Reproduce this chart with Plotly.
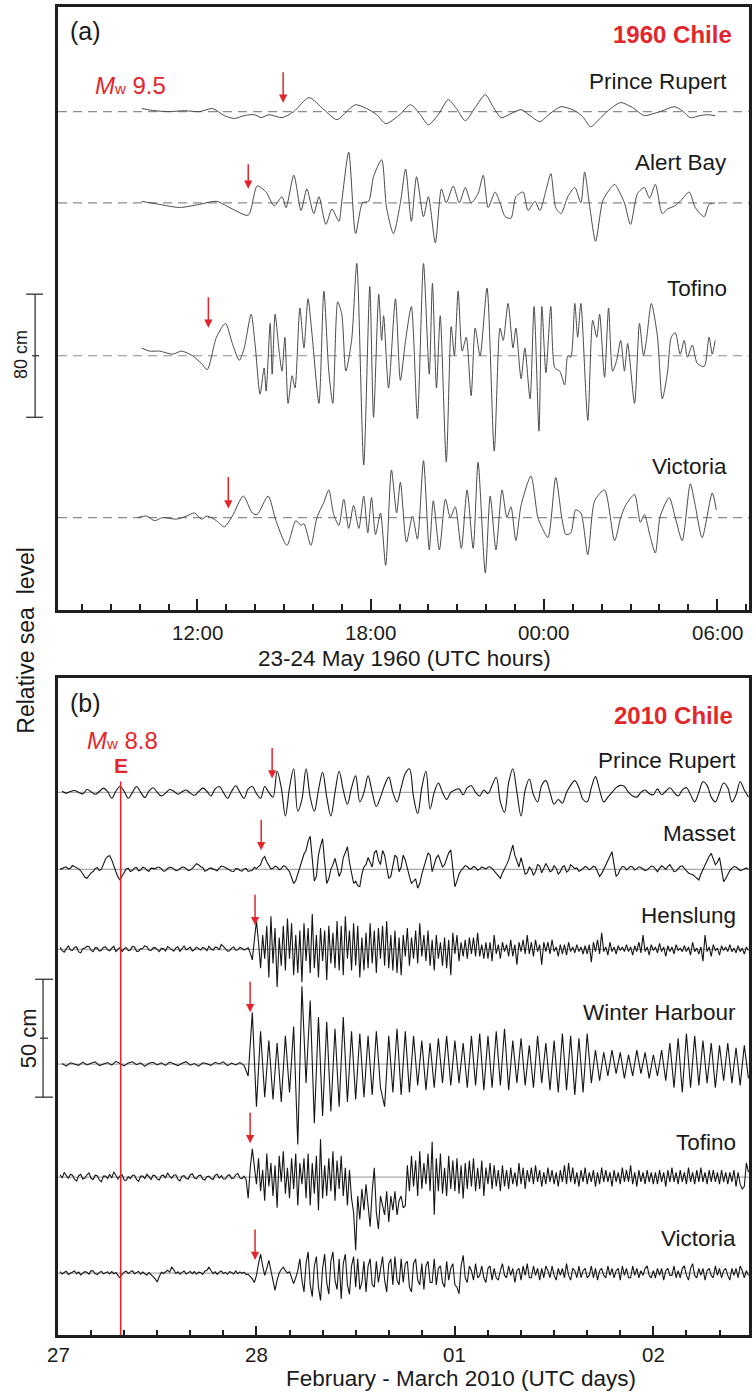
import numpy as np
import plotly.graph_objects as go

# ---------------- (a) 1960 Chile : hours from 23 May 1960 00:00 UTC, relative sea level (cm)
pr60_t = [10.07,10.52,11.03,11.55,12.07,12.52,12.93,13.28,13.62,13.97,14.21,14.48,14.93,15.34,15.86,16.38,16.83,17.24,17.48,17.86,
          18.21,18.52,18.97,19.38,19.72,20.0,20.34,20.69,20.97,21.28,21.62,21.97,22.24,22.52,22.86,23.21,23.52,23.86,24.21,24.59,
          25.07,25.34,25.62,25.97,26.31,26.66,27.07,27.48,27.79,28.03,28.52,28.79,29.07,29.41,29.66,29.93]
pr60_v = [2,0.6,0,0.6,0,2,-2.6,-4.5,-2.6,-2,-3.9,-2,-3.9,0,9.1,1.3,-5.2,1.3,4.5,2,
          -2,-7.8,-2.6,4.5,-2,-8.5,-2,7.8,2,-5.9,2.6,11,3.2,-3.9,-1.3,1.3,-2.6,-6.5,-1.3,3.2,
          0.6,-3.2,-9.8,-3.9,2,5.9,2.6,-2.6,-1.3,0,3.2,0.6,-3.9,-2.6,-2,-2.6]

ab60_t = [10.07,10.69,11.38,12.07,12.66,13.21,13.76,14.07,14.38,14.66,14.93,15.07,15.34,15.59,15.79,16.03,16.21,16.45,16.66,16.90,
          17.0,17.24,17.48,17.72,17.93,18.10,18.38,18.55,18.79,19.03,19.21,19.41,19.59,19.83,20.0,20.24,20.45,20.62,20.86,21.07,
          21.28,21.48,21.72,21.90,22.07,22.31,22.48,22.66,22.86,23.03,23.28,23.45,23.69,23.86,24.07,24.24,24.41,24.59,24.83,25.07,
          25.28,25.41,25.59,25.79,26.03,26.21,26.45,26.62,26.79,27.0,27.24,27.48,27.66,27.86,28.10,28.28,28.52,28.72,29.03,29.24,
          29.55,29.72,29.93]
ab60_v = [1,-1,-3,-1,1,-4,-8,11,7,-2,4,-3,18,-5,9,-7,4,-14,-4,-12,
          1,33,-20,0,1,17,28,-3,-20,0,22,-12,17,-9,4,-26,9,0,11,0,
          10,0,6,18,-3,7,0,-9,-10,4,7,-5,1,-5,8,19,-3,-7,4,10,
          0,20,-3,-25,1,7,12,7,0,-14,6,10,3,12,-7,-4,-2,1,7,-3,
          -9,-1,0]

to60_t = [10.07,10.34,10.69,11.14,11.45,11.83,12.14,12.34,12.66,12.97,
          13.21,13.45,13.62,13.86,14.0,14.17,14.31,14.38,14.52,14.59,
          14.69,14.83,14.93,15.03,15.14,15.28,15.38,15.55,15.69,15.83,
          15.97,16.21,16.38,16.55,16.69,16.86,17.0,17.14,17.34,17.52,
          17.76,17.97,18.10,18.28,18.38,18.45,18.62,18.86,19.03,19.21,
          19.41,19.62,19.83,20.03,20.14,20.28,20.41,20.62,20.79,20.90,
          21.03,21.17,21.31,21.48,21.62,21.79,22.03,22.28,22.48,22.59,
          22.76,22.93,23.03,23.21,23.34,23.52,23.66,23.83,23.93,24.07,
          24.24,24.38,24.55,24.72,24.83,24.93,25.07,25.17,25.28,25.52,
          25.69,25.83,25.93,26.10,26.24,26.38,26.52,26.66,26.79,26.90,
          27.14,27.31,27.45,27.55,27.72,27.93,28.10,28.28,28.41,28.55,
          28.72,28.86,28.97,29.14,29.31,29.55,29.72,29.83,29.93]
to60_v = [5,3,3,1,3,0,-5,-9,12,21,
          8,-3,5,27,7,-25,-8,-23,21,-12,
          27,3,-10,12,-31,-13,-21,31,5,37,
          14,-31,42,-10,-31,35,27,-10,10,60,
          -71,45,-40,40,10,26,-21,37,-16,10,
          32,-41,60,-12,47,-21,26,-69,19,0,
          42,3,12,-26,18,0,44,-62,18,10,
          34,5,18,-15,5,-28,32,-49,32,-11,
          32,-8,-10,-19,0,-1,34,12,34,-42,
          23,12,27,-14,31,-10,-3,10,-10,8,
          -31,21,0,10,34,13,-28,-11,12,15,
          1,10,-1,7,-5,-7,12,1,10]

vi60_t = [9.93,10.24,10.52,10.79,11.28,11.62,11.90,12.14,12.34,12.66,
          12.93,13.21,13.59,13.90,14.07,14.45,14.72,15.10,15.41,15.59,
          15.69,15.93,16.14,16.38,16.55,16.72,16.90,17.07,17.24,17.41,
          17.59,17.76,17.90,18.03,18.17,18.34,18.52,18.72,18.90,19.03,
          19.24,19.45,19.62,19.83,20.03,20.17,20.38,20.59,20.76,20.93,
          21.14,21.34,21.55,21.72,21.97,22.14,22.34,22.55,22.72,22.86,
          23.03,23.21,23.55,23.79,23.90,24.14,24.41,24.62,24.76,24.93,
          25.10,25.28,25.52,25.76,26.10,26.45,26.66,26.83,27.14,27.34,
          27.48,27.69,27.86,28.03,28.34,28.55,28.79,29.07,29.24,29.48,
          29.83,29.97]
vi60_v = [0,1,-2,0,-1,1,3,-1,1,-2,
          -6,1,14,3,2,14,-2,-18,-2,-5,
          -4,-18,0,10,18,2,-5,12,-7,8,
          -7,14,-10,13,-11,3,-31,31,3,23,
          -16,1,-14,37,-21,11,-21,12,0,7,
          -20,18,-20,36,-36,14,-21,18,0,7,
          -15,8,27,0,-5,-13,26,0,-11,-10,
          5,3,-24,11,18,-15,0,8,15,-3,
          2,-13,-23,1,13,0,-15,22,8,-13,
          16,5]

arrival60 = [14.97, 13.76, 12.38, 13.07]   # red arrows (h)

# ---------------- (b) 2010 Chile : days from 27 Feb 2010 00:00 UTC (cm)
t10 = np.arange(1, 168) / 48.0    # 30-min samples
t10f = np.arange(1, 335) / 96.0   # 15-min samples
pr10 = [0.5,-0.3,0.4,0.8,0,-0.6,1.2,0.3,-0.8,0.4,1.8,0.4,
        -2.5,0.5,2.5,0.5,-2.5,0,2.5,0,-2.2,0.5,2.0,0,
        -1.5,-0.3,1.2,0.5,-0.8,0.3,1.0,-0.3,-1.2,0.3,1.8,0.5,
        -1.5,1.5,2.5,0,-2.5,0.5,2.8,0,-2.5,1.5,2.5,-0.5,
        -2.5,2.5,0,-2,9,2,-10,2,10,-8,-3,10,
        -2,-8,1,8.5,-2,-10,0,9,1,-5,2,7,
        -4,0,7,0,-6,-2,3,6.5,0,-4,2,8,
        10,-2,-9,2,9,-7,0,4,0,-3,0,1,
        1.5,-1,2,2.8,0,-1.5,1,-0.5,3,6.4,-4,-8.5,
        4,10,0,-10,1,5.7,-1,-4,3,5,0,-5,
        -3,-4.5,0,3,5,2,-3,-4,2,6.7,1,-4,
        -2,0,2,3,2.5,0,-1.5,-2,0,1,-0.5,-1,
        1.5,-1,0.5,2,0,-1.5,1,2,-1,-4,0,4.5,
        3,-2,-4,0,4,2,-4,-1,4.5,1,-2]
ma10 = [0.1,0.3,0.9,1,0.2,0.5,1.6,1.2,0.5,0.2,-0.6,-2,-3.4,-3.8,-2.6,-1.5,-0.9,0.3,0.8,-0.5,0.1,2,4.4,5.5,
        5.8,4,1.2,-1,-3.2,-4.5,-2.8,-1,0.2,0.5,-0.9,-0.5,0.6,0.8,-0.6,-0.3,0.9,0.6,-0.4,-0.8,0.5,0.4,0.2,0.9,
        0.9,0.3,-0.8,-0.6,0.4,0.9,0.8,0.2,-0.6,-0.4,0.5,1.0,0.9,0.4,-0.5,-0.3,0.4,1.2,2.4,2,1.1,0.8,-0.7,-0.5,
        0.4,0.6,0.2,-0.3,-0.6,0.5,1.4,1.2,0.6,0.1,-0.3,-0.8,-0.9,0.3,0.2,-0.5,-0.8,0.2,0.4,-0.9,-0.8,-0.4,0.9,0.3,
        1.2,2,4.5,5.4,3.2,1.5,0.2,0.5,1.4,1,-0.2,0.3,1.5,1.2,0.2,-1,-3.5,-6,-4.8,-2,0.5,3,6.5,8,
        12,14,4,-5,-3,6,10,13,3,-6,-4,0,2,4.7,1,-3,-1,5,7,9.6,3,-2,-6,-5,
        -7,-7.3,-2,1,2,5,3,1,7,8,4,2,8,6,1,-3.8,-3,2,6,5,-1,1,6,4,
        0,-3,-6,-5,-4,-8,-6,-2,1,4,7,6,-1,2,5,6,3,1,2,5,7,8.2,0,-7.4,
        -5,-2,-0.5,0.5,1.6,1.2,0.2,0.3,1.2,0.8,-0.4,0.2,1,0.6,0.2,0.9,1.1,0.4,-0.6,-2,-3,-3.8,-1.5,0,
        2,4,7,10.3,6,3,1,5,1,-2,-1.5,1,0,-2.5,-1,2,1.5,-1.5,0.5,2.5,1,-1,-0.5,1.5,
        0.5,-2,-1,1,1.5,-1.2,-0.5,2,1.2,0.3,0.6,-0.8,-0.4,0.5,1.2,0.8,-0.2,0.4,1.3,0.9,-1.5,-3,-1.8,0,
        2,4,6,7.5,2,-3,-2,0,1.2,1,-0.2,0.5,1.3,1,-0.3,0.3,1.1,0.8,0.2,-0.5,-0.2,0.6,1.4,1.2,
        0.3,-1,0.4,1.5,0.9,0,1.2,2,0.6,-1,-0.7,0.5,1.2,1.5,0.4,-1,-1.6,-2,-2.2,-3,-3.8,-4.5,-2,0,
        2,4,5.5,6.8,4,2,3,5,0,-5.2,-4,-2,-0.5,0.5,1.2,1,0.2,-0.5,-0.3,0.3,0.6,0]
he10 = [0.8,-0.6,-1.2,0.4,1.5,-0.3,-0.5,0.9,1,-1.1,-1.5,0.2,0.5,1.3,1.2,-0.4,-1,0.7,0.6,-0.8,-0.4,0.9,1,-0.2,
        -0.6,0.5,1.3,-0.9,0.2,0.8,-1,0.3,0.8,-0.6,-0.3,1.2,1,-0.9,-0.8,0.2,0.4,1.4,1.1,-0.3,-0.5,0.6,0.7,-0.4,
        -1,0.4,0.3,-0.7,1.2,0.6,-0.2,-0.8,0.6,1.1,-0.9,0.1,1.4,-0.3,0.2,0.9,-0.7,-0.2,0.9,0.4,-0.3,0.8,0.5,-0.6,
        1.3,0.2,-0.4,0.9,0.8,-0.3,2,1.2,0.4,-0.8,-0.6,0.5,1,-0.4,-0.2,0.8,0.5,-0.3,0.1,0.6,-1.5,-4.5,4,12,
        3,-8,6,-4,10,-12,14,-6,9,-16,5,-7,10,-9,13,-4,11,-11,6,-10,8,-14,11,-5,
        9,-10,15,-8,6,-12,9,-5,8,-13,10,-6,7,-8,12,-9,10,-11,14,-4,8,-9,11,-7,
        10,-12,5,-9,7,-8,11,-6,8,-10,9,-4,10,-7,12,-8,6,-9,8,-10,5,-11,6,-3,
        9,-7,5,-4,8,-6,11,-3,6,-5,8,-7,4,-9,6,-4,3,-7,5,-8,4,-11,7,-2,
        6,-5,3,-3,4,-4,5,-2,5,-3,7,-3,2,-4,3,-4,3,-5,6,-2,2,-4,3,-1,
        2,-3,4,-3,2,-6.5,3,-1,4,-2,6,-2,3,-3,4,-1,2,-6.5,3,-1,3,-2,4,-1,
        1,-3,2,-2,2,-2.5,3,-1,1,-1.5,2,-1,1,-2,1.5,-2,2,-5.5,3,-1,4,-2,7,-1,
        1,-2.5,3,-1,1,-2,1.5,-0.5,1,-1,2,-1,1,-2.5,1.5,-1,3,-1.5,6,-1,1,-2.5,2,-0.5,
        1,-1.5,2.5,-1,1,-3,1.5,-1,1,-2,2,-0.5,0.5,-1,1.5,-1,1,-2.5,3,-1,0.5,-2,1,-5,
        6,-1,1,-3,2,-0.5,0.5,-2.5,1.5,-0.5,1,-1,2,-1,0.5,-1.5,1.5,-1,0.5,-2,1,-0.5]
wh10 = [0.3,-0.8,0.6,0.2,-0.5,0.9,-0.3,0.4,1,-0.6,0.2,0.7,
        -0.4,1.2,0.3,-0.7,0.5,1,-0.2,0.6,-0.9,0.4,0.8,-0.3,
        0.6,-0.5,0.9,0.2,-0.6,0.4,1.1,-0.4,0.3,-0.8,0.6,0.2,
        -0.5,0.8,0.1,1,-0.6,0.5,-0.3,0.7,-0.5,-5,22,-18,
        14,-14,10,-15,9,-16,12,-12,16,-34,33,-8,
        27,-25,20,-22,18,-20,15,-18,20,-16,14,-15,
        13,-14,12,-13,14,-10,-18,12,-12,15,-13,14,
        -12,12,-9,10,-11,9,-10,11,-8,12,-9,10,
        -8,9,-10,12,-9,13,-11,12,-10,14,-9,15,
        -11,10,-8,11,-9,8,-10,12,-8,9,-11,10,
        -12,13,-11,12,-13,11,-12,13,-8,6,-7,5,
        -5,6,-4,5,-6,4,-5,6,-4,5,-6,4,
        -5,6,-7,9,-10,11,-12,13,-10,12,-9,10,
        -8,9,-10,8,-7,9,-8,7,-9,8,-6]
to10 = [1,-0.4,2,0.6,-0.6,1.2,0.8,-1,-1.6,0.6,1.2,-0.8,-0.4,1,1.8,-0.6,-1,0.8,0.6,-1.2,-2,0.4,0.4,-0.6,
        1.2,-0.4,2.2,0.8,-0.8,0.6,1,-1.2,-1.4,0.2,-0.6,0.8,0.8,-1,-1.8,0.4,0.4,-0.6,1.2,0.2,-1,0.8,0.6,-0.8,
        -1.2,0.6,0.8,-0.4,1.8,0.4,-0.4,0.8,1,-1,-1.6,0.4,0.6,-0.6,-0.8,1,1.4,-0.4,-0.6,0.6,0.8,-0.8,-1.2,0.2,
        0.4,-0.6,-1,0.8,1.2,-0.4,0.6,-0.8,-0.8,0.6,1,-0.6,-0.4,1,1.6,-0.4,-0.6,0.4,-1,-9,4,12,3,-3,
        8,-6,3,-10,10,-4,6,-8,5,-13,9,-2,11,-7,4,-9,8,-5,10,-12,6,-3,8,-9,
        10,-12,6,-7,9,-14,16,-9,5,-8,8,-6,11,-10,7,-5,9,-8,4,-12,3,-9,-15,-31,
        -8,-18,-5,-14,-3,-12,-21,-6,4,-15,-22,-8,-12,-16,-6,-19,-8,-14,-6,-16,-10,-8,-13,-12,
        5,-6,9,-4,7,-8,11,-5,6,-3,10,-6,15,-16,8,-6,10,-7,4,-8,9,-5,7,-6,
        8,-7,5,-9,6,-5,7,-4,8,-6,4,-5,7,-8,4,-3,6,-5,5,-4,3,-6,5,-4,
        3,-5,4,-3,2,-4,6,-3,4,-5,3,-2,4,-3,5,-2,3,-4,2,-3,4,-2,3,-3,
        2,-4,3,-2,5,-3,6,-2,4,-3,2,-4,3,-2,4,-3,2,-2,3,-4,2,-3,4,-2,
        3,-2,2,-4,3,-2,2,-3,4,-2,3,-2,5,-3,2,-4,3,-2,2,-3,3,-2,2,-3,
        2,-3,3,-2,2,-4,3,-2,4,-2,2,-3,3,-2,2,-3,4,-2,2,-3,3,-2,4,-2,
        2,-3,3,-2,3,-2,2,-3,3,-2,2,-3,2,-2,3,-4,2,-3,-5,-4,6,2]
vi10 = [0.6,-0.4,0.2,0.8,-0.6,-0.2,0.5,0.9,-0.3,0.4,-0.8,-0.2,0.6,0.3,-0.5,1,0.9,-0.2,-0.6,0.3,0.7,-0.3,0.2,0.5,
        -0.4,0.6,-0.3,0.2,-1,-2,-0.6,0.4,0.8,-0.2,0.5,1,-0.3,0.2,0.7,-0.5,0.4,-0.3,-0.8,0.2,-0.5,-1.5,-2.5,-3.8,
        -1.5,0.3,-0.2,0.6,1.2,0.4,2.5,1.4,-0.2,0.5,-0.5,0.3,0.9,-0.4,0.2,0.7,-0.3,0.6,-0.5,0.4,0.2,-0.6,0.8,1.2,
        2.5,1,-0.3,0.5,-0.6,0.4,0.9,-0.2,0.3,-0.5,0.6,0.2,-0.4,0.9,-0.3,0.5,-0.2,0.4,-0.6,-0.5,-1.5,-2.5,-4,-1,
        4,8,3,-1,2,5.4,1,-3,-7.3,-3,0,1.5,2.5,1,0,0.5,-2,-4.5,-2,1,6,-3,-8,4,
        9,-5,-10,3,7,-6,-11.6,2,8,-4,-9,5,9,-3,-7,6,-11,4,8,-5,-9,3,7,-6,
        6,-7,-4,5,-8,3,6,-5,-6,5,-4,2,7,-3,-8,4,6,-5,7,-3,-5,6,-4,4,
        5,-6,-8,4,6,-3,-5,4,-7,3,5,-4,-4,6,-5,2,3,-4,-6,5,-3,2,4,-5,
        -6,-8.8,3,7.5,-2,-4,3,1,-3,4,-2,-1,3,-2,-4,2,3,-3,2,-2,-3,1,4,-1,
        -2,3,-1,2,-4,1,2,-3,3,-1,4,-2,-2,3,-1,2,-3,2,-2,3,1,-2,3,-1,
        -3,2,-1,2,-2,4,-1,-3,2,1,-2,3,-2,1,2,-2,-1,3,-2,2,-3,1,2,-1,
        -2,3,-1,2,-2,1,2,-3,3,-1,2,-2,-2,3,-1,2,-2,1,-1,2,3,-1,-2,1,
        -2,2,-1,2,-3,1,2,-1,-1,3,-2,1,-2,2,3,-1,-3,2,4,-1,-2,2,-1,2,
        -3,1,2,-1,-2,3,-1,2,-2,1,2,-1,-3,2,-1,2,-2,3,1,-2,1,-1]
arrival10 = [1.079, 1.024, 0.993, 0.968, 0.968, 0.993]   # red arrows (days)
quake_t10 = 0.316                                          # earthquake marker "E"

ticks60_vals = [12, 18, 24, 30]
ticks60_text = ["12:00", "18:00", "00:00", "06:00"]
ticks10_vals = [0, 1, 2, 3]
ticks10_text = ["27", "28", "01", "02"]

# ---------------- layout geometry (pixels)
W, H = 756, 1392
ML, MR, MT, MB = 58, 4, 6, 57
PW, PH = W - ML - MR, H - MT - MB
def px(x): return (x - ML) / PW
def py(y): return (H - MB - y) / PH

A_TOP, A_BOT = 6, 609
B_TOP, B_BOT = 678, 1335
PXCM_A, PXCM_B = 1.54, 2.36
A_RANGE = (A_BOT - A_TOP) / PXCM_A
B_RANGE = (B_BOT - B_TOP) / PXCM_B
def off_a(ypix): return (A_BOT - ypix) / PXCM_A
def off_b(ypix): return (B_BOT - ypix) / PXCM_B

XA = (7.1724, 31.103)
XB = (0.0, 3.482)

RED = "#e3262b"
FONT = "Liberation Sans, Arial, sans-serif"

fig = go.Figure()
shapes, annos = [], []

# panel (a) traces
st_a = [("Prince Rupert", pr60_t, pr60_v, 110.7, 81, 9, 32),
        ("Alert Bay", ab60_t, ab60_v, 202, 162, 14, 26),
        ("Tofino", to60_t, to60_v, 355, 288, 28, 32),
        ("Victoria", vi60_t, vi60_v, 517, 466, 9, 33)]
for (name, t, v, base, ylab, gap, alen), arr in zip(st_a, arrival60):
    off = off_a(base)
    shapes.append(dict(type="line", xref="x", yref="y", x0=XA[0], x1=XA[1], y0=off, y1=off,
                       line=dict(color="#8c8c8c", width=1.2, dash="9px,6px"), layer="below"))
    fig.add_trace(go.Scatter(x=t, y=np.array(v) + off, mode="lines", xaxis="x", yaxis="y",
                             line=dict(color="#4a4a4a", width=1, shape="spline", smoothing=0.7),
                             showlegend=False, hoverinfo="skip"))
    annos.append(dict(text=name, xref="paper", yref="paper", x=px(732), y=py(ylab),
                      xanchor="right", yanchor="middle", showarrow=False,
                      font=dict(size=22.5, color="#1a1a1a", family=FONT)))
    annos.append(dict(text="", x=arr, y=off + gap / PXCM_A, xref="x", yref="y",
                      showarrow=True, ax=0, ay=-alen, arrowcolor=RED, arrowwidth=1.5,
                      arrowhead=2, arrowsize=1.1))

# panel (b) traces
st_b = [("Prince Rupert", t10, pr10, 792, 760, 14, "spline"),
        ("Masset", t10f, ma10, 869, 833, 19, "linear"),
        ("Henslung", t10f, he10, 949, 915, 24, "linear"),
        ("Winter Harbour", t10, wh10, 1064, 1012, 52, "linear"),
        ("Tofino", t10f, to10, 1177, 1142, 34, "linear"),
        ("Victoria", t10f, vi10, 1273, 1238, 13, "linear")]
for (name, t, v, base, ylab, gap, shp), arr in zip(st_b, arrival10):
    off = off_b(base)
    shapes.append(dict(type="line", xref="x2", yref="y2", x0=XB[0], x1=XB[1], y0=off, y1=off,
                       line=dict(color="#a8a8a8", width=1.2), layer="below"))
    fig.add_trace(go.Scatter(x=t, y=np.array(v) + off, mode="lines", xaxis="x2", yaxis="y2",
                             line=dict(color="#151515", width=1.1, shape=shp),
                             showlegend=False, hoverinfo="skip"))
    annos.append(dict(text=name, xref="paper", yref="paper", x=px(741), y=py(ylab),
                      xanchor="right", yanchor="middle", showarrow=False,
                      font=dict(size=22.5, color="#1a1a1a", family=FONT)))
    annos.append(dict(text="", x=arr, y=off + gap / PXCM_B, xref="x2", yref="y2",
                      showarrow=True, ax=0, ay=-32, arrowcolor=RED, arrowwidth=1.5,
                      arrowhead=2, arrowsize=1.1))

# earthquake line
shapes.append(dict(type="line", xref="x2", yref="y2", x0=quake_t10, x1=quake_t10,
                   y0=0, y1=off_b(781), line=dict(color=RED, width=1.6)))

# scale bars
def bar(xc, ytop, ybot, ymid, cap0, cap1, mid0, mid1):
    lw = dict(color="#333333", width=1.3)
    shapes.append(dict(type="line", xref="paper", yref="paper", x0=px(xc), x1=px(xc), y0=py(ytop), y1=py(ybot), line=lw))
    for yy in (ytop, ybot):
        shapes.append(dict(type="line", xref="paper", yref="paper", x0=px(cap0), x1=px(cap1), y0=py(yy), y1=py(yy), line=lw))
    shapes.append(dict(type="line", xref="paper", yref="paper", x0=px(mid0), x1=px(mid1), y0=py(ymid), y1=py(ymid), line=lw))

ymid_a = 355
bar(35, ymid_a - 40 * PXCM_A, ymid_a + 40 * PXCM_A, ymid_a, 26, 43, 32, 39)
ymid_b = 1038
bar(43, ymid_b - 25 * PXCM_B, ymid_b + 25 * PXCM_B, ymid_b, 35, 53, 40, 48)

def txt(text, x, y, size, color="#1a1a1a", xa="center", ya="middle", angle=0):
    annos.append(dict(text=text, xref="paper", yref="paper", x=px(x), y=py(y), xanchor=xa, yanchor=ya,
                      showarrow=False, textangle=angle, font=dict(size=size, color=color, family=FONT)))

txt("80 cm", 21, 354, 18, angle=-90)
txt("50 cm", 28, 1038, 22, angle=-90)
txt("Relative sea\u00a0 level", 25, 640, 23, angle=-90)
txt("(a)", 68, 30, 25, xa="left")
txt("(b)", 68, 703, 25, xa="left")
txt("<b>1960 Chile</b>", 737, 34, 24, color=RED, xa="right")
txt("<b>2010 Chile</b>", 738, 715, 24, color=RED, xa="right")
txt("<i>M</i><span style='font-size:15px'>w</span> 9.5", 93, 85, 24, color=RED, xa="left")
txt("<i>M</i><span style='font-size:15px'>w</span> 8.8", 85, 740, 24, color=RED, xa="left")
txt("<b>E</b>", 121, 765, 21, color=RED)
txt("23-24 May 1960 (UTC hours)", 406, 658, 22.5)
txt("February - March 2010 (UTC days)", 463, 1379, 22.5)

# tick labels (drawn as text under each axis)
for v, s in zip(ticks60_vals, ticks60_text):
    annos.append(dict(text=s, x=v, xref="x", y=py(632), yref="paper", showarrow=False,
                      xanchor="center", yanchor="middle", font=dict(size=20.5, family=FONT, color="#1a1a1a")))
for v, s in zip(ticks10_vals, ticks10_text):
    annos.append(dict(text=s, x=v, xref="x2", y=py(1355), yref="paper", showarrow=False,
                      xanchor="center", yanchor="middle", font=dict(size=20.5, family=FONT, color="#1a1a1a")))

axcommon = dict(showline=True, mirror=True, linecolor="#1e1e1e", linewidth=2.5,
                showgrid=False, zeroline=False)
fig.update_layout(
    width=W, height=H, margin=dict(l=ML, r=MR, t=MT, b=MB),
    paper_bgcolor="white", plot_bgcolor="white", showlegend=False,
    font=dict(family=FONT, color="#1a1a1a"),
    xaxis=dict(domain=[0, 1], range=list(XA), anchor="y", ticks="inside", tickmode="array",
               tickvals=ticks60_vals, ticktext=ticks60_text, showticklabels=False,
               ticklen=11, tickwidth=1.5, tickcolor="#1e1e1e",
               minor=dict(tickmode="linear", tick0=8, dtick=1, ticks="inside", ticklen=6,
                          tickwidth=1.5, tickcolor="#1e1e1e", showgrid=False),
               **axcommon),
    yaxis=dict(domain=[py(A_BOT), py(A_TOP)], range=[0, A_RANGE], anchor="x",
               showticklabels=False, ticks="", **axcommon),
    xaxis2=dict(domain=[0, 1], range=list(XB), anchor="y2", ticks="inside", tickmode="array",
                tickvals=ticks10_vals, ticktext=ticks10_text, showticklabels=False,
                ticklen=9, tickwidth=1.5, tickcolor="#1e1e1e",
                minor=dict(tickmode="linear", tick0=0, dtick=1 / 6, ticks="inside", ticklen=5,
                           tickwidth=1.5, tickcolor="#1e1e1e", showgrid=False),
                **axcommon),
    yaxis2=dict(domain=[0, py(B_TOP)], range=[0, B_RANGE], anchor="x2",
                showticklabels=False, ticks="", **axcommon),
    shapes=shapes, annotations=annos,
)

fig.write_html("out.html")
